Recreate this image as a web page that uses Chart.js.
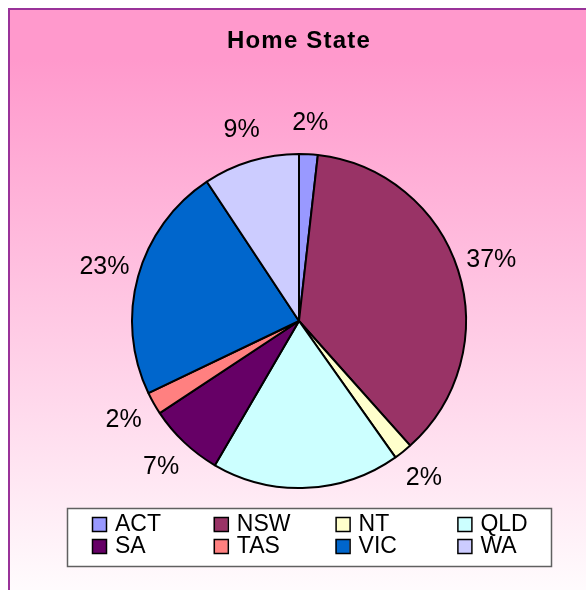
<!DOCTYPE html>
<html>
<head>
<meta charset="utf-8">
<script src="https://cdn.jsdelivr.net/npm/chart.js@4.4.1/dist/chart.umd.min.js"></script>
<style>
  html, body { margin: 0; padding: 0; background: #ffffff; }
  canvas { display: block; }
</style>
</head>
<body>
<canvas id="c" width="586" height="590"></canvas>
<script>
const categories = ['ACT', 'NSW', 'NT', 'QLD', 'SA', 'TAS', 'VIC', 'WA'];
const shares = [1.8, 36.6, 1.8, 18.2, 7.3, 2.2, 22.8, 9.3];
const sliceColors = ['#9999FF', '#993366', '#FFFFCC', '#CCFFFF', '#660066', '#FF8080', '#0066CC', '#CCCCFF'];
const chartTitle = 'Home State';

const FONT = "'Liberation Sans', Arial, Helvetica, sans-serif";

const backgroundPlugin = {
  id: 'bgFrame',
  beforeDraw(chart) {
    const ctx = chart.ctx;
    const w = chart.width, h = chart.height;
    ctx.save();
    const g = ctx.createLinearGradient(0, 60, 0, 610);
    g.addColorStop(0, '#FF99CC');
    g.addColorStop(1, '#FFFFFF');
    ctx.fillStyle = g;
    ctx.fillRect(8, 8, w - 8, h - 8);
    ctx.strokeStyle = '#993399';
    ctx.lineWidth = 2;
    ctx.beginPath();
    ctx.moveTo(9, h);
    ctx.lineTo(9, 9);
    ctx.lineTo(w, 9);
    ctx.stroke();
    ctx.restore();
    // slight letter spacing for the title, which is drawn next
    if ('letterSpacing' in ctx) ctx.letterSpacing = '1.2px';
  },
  beforeDatasetsDraw(chart) {
    const ctx = chart.ctx;
    if ('letterSpacing' in ctx) ctx.letterSpacing = '0px';
  }
};

const pctLabelPlugin = {
  id: 'pctLabels',
  afterDatasetsDraw(chart) {
    const ctx = chart.ctx;
    const meta = chart.getDatasetMeta(0);
    const data = chart.data.datasets[0].data;
    const total = data.reduce((a, b) => a + b, 0);
    ctx.save();
    ctx.font = '25px ' + FONT;
    ctx.fillStyle = '#000000';
    ctx.textAlign = 'center';
    ctx.textBaseline = 'middle';
    meta.data.forEach((arc, i) => {
      const p = arc.getProps(['x', 'y', 'startAngle', 'endAngle', 'outerRadius'], true);
      const mid = (p.startAngle + p.endAngle) / 2;
      const d = p.outerRadius + 31 + 4 * Math.abs(Math.cos(mid));
      const tx = p.x + Math.cos(mid) * d;
      const ty = p.y + Math.sin(mid) * d;
      ctx.fillText(Math.round(data[i] / total * 100) + '%', tx, ty);
    });
    ctx.restore();
  }
};

const legendPlugin = {
  id: 'gridLegend',
  afterDraw(chart) {
    const ctx = chart.ctx;
    const labels = chart.data.labels;
    const cols = chart.data.datasets[0].backgroundColor;
    ctx.save();
    ctx.fillStyle = '#FFFFFF';
    ctx.fillRect(67, 508, 484, 58);
    ctx.strokeStyle = '#606060';
    ctx.lineWidth = 1.5;
    ctx.strokeRect(67.5, 508.5, 484, 58);
    ctx.font = '23px ' + FONT;
    ctx.textAlign = 'left';
    ctx.textBaseline = 'middle';
    labels.forEach((lab, i) => {
      const col = i % 4, row = Math.floor(i / 4);
      const bx = 92 + col * 121.8;
      const by = 517 + row * 22;
      ctx.fillStyle = cols[i];
      ctx.fillRect(bx, by, 14, 14);
      ctx.strokeStyle = '#000000';
      ctx.lineWidth = 1.5;
      ctx.strokeRect(bx + 0.5, by + 0.5, 14, 14);
      ctx.fillStyle = '#000000';
      ctx.fillText(lab, bx + 23, by + 8);
    });
    ctx.restore();
  }
};

new Chart(document.getElementById('c'), {
  type: 'pie',
  data: {
    labels: categories,
    datasets: [{
      data: shares,
      backgroundColor: sliceColors,
      borderColor: '#000000',
      borderWidth: 2,
      radius: 167
    }]
  },
  options: {
    responsive: false,
    devicePixelRatio: 1,
    animation: false,
    events: [],
    layout: { padding: { left: 12, right: 0, top: 20, bottom: 8 } },
    plugins: {
      legend: { display: false },
      tooltip: { enabled: false },
      title: {
        display: true,
        text: chartTitle,
        color: '#000000',
        font: { family: FONT, size: 24, weight: 'bold', lineHeight: 1.15 },
        padding: { top: 8, bottom: 4.4 }
      }
    }
  },
  plugins: [backgroundPlugin, pctLabelPlugin, legendPlugin]
});
</script>
</body>
</html>
